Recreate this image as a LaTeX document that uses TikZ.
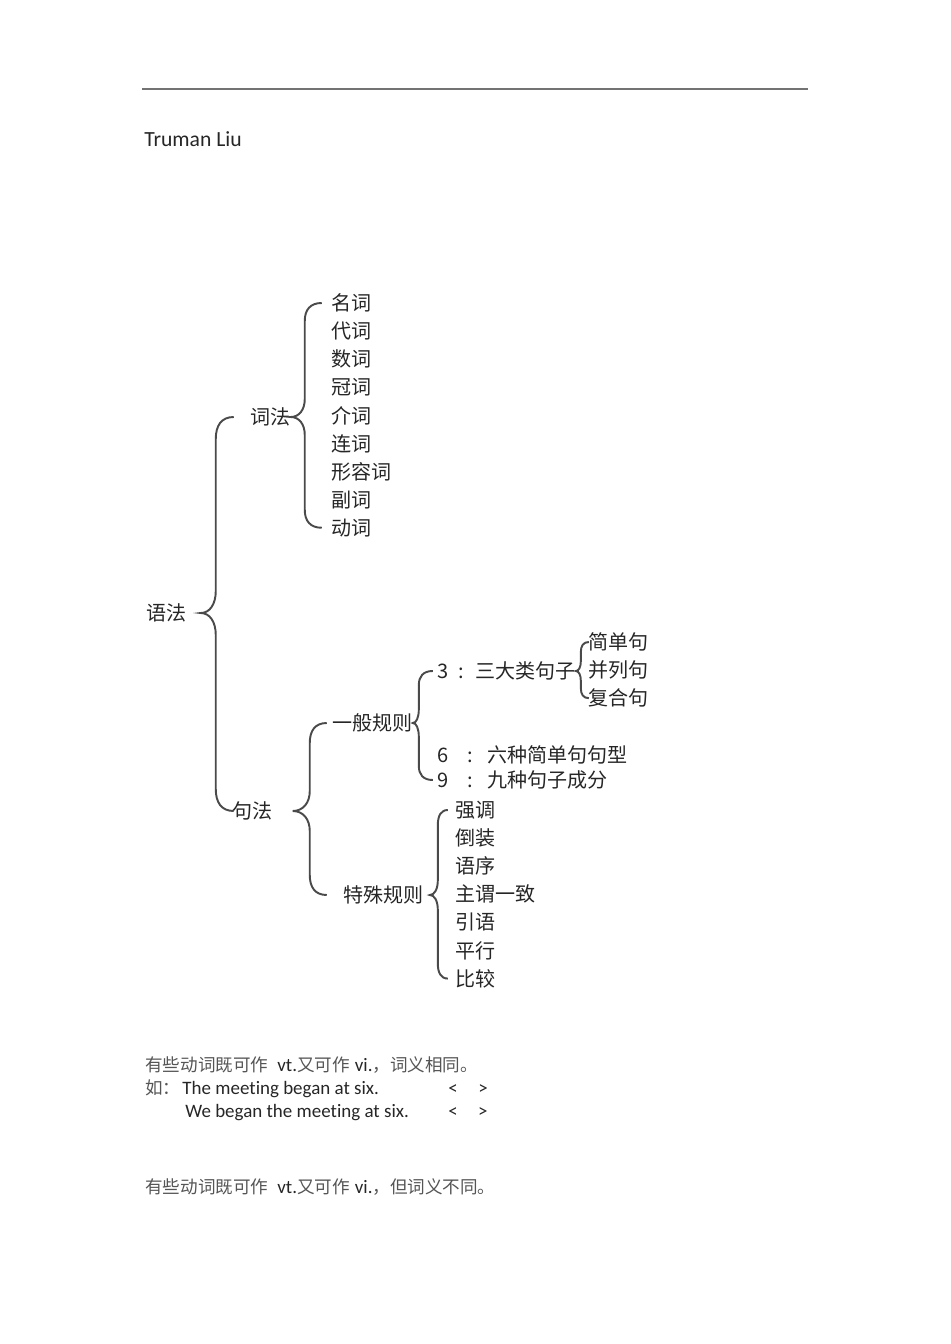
\documentclass[tikz,border=0pt]{standalone}
\usepackage{fontspec}
\setmainfont{Carlito}[Ligatures=NoCommon]
\newfontfamily\cjk{Noto Sans CJK SC}
\usetikzlibrary{positioning,calc}
\definecolor{inkgray}{HTML}{555555}
\definecolor{bracegray}{HTML}{4A4A4A}
\newcommand{\zh}[1]{{\cjk\fontsize{10pt}{12pt}\selectfont\color{inkgray}#1}}
% parent, first child, last child, cusp gap, spine gap, end length, curl
\newcommand{\grbrace}[7]{%
  \coordinate (cusp) at ($(#1.east)+(#4,0)$);
  \coordinate (spine) at ($(cusp)+(#5,0)$);
  \draw[brace] ($(spine |- #2.west)+(#6,0)$)
    .. controls +(-0.7*#6,0) and +(0,0.6*#7) .. ($(spine |- #2.west)+(0,-#7)$)
    -- ($(spine |- cusp)+(0,#7)$)
    .. controls +(0,-0.6*#7) and +(0.6*#5,0) .. (cusp)
    .. controls +(0.6*#5,0) and +(0,0.6*#7) .. ($(spine |- cusp)+(0,-#7)$)
    -- ($(spine |- #3.west)+(0,#7)$)
    .. controls +(0,-0.6*#7) and +(-0.7*#6,0) .. ($(spine |- #3.west)+(#6,0)$);
}

\begin{document}
\begin{tikzpicture}[x=0.02cm,y=0.02cm,node distance=0.562cm,on grid,
    word/.style={anchor=west,inner sep=0pt,text=black!85,font=\cjk\fontsize{11.4pt}{12pt}\selectfont},
    brace/.style={draw=bracegray,line width=1.1pt},
    body/.style={anchor=west,inner sep=0pt,text=black!85,font=\fontsize{10.8pt}{12pt}\selectfont}]
	\useasboundingbox (0,0) rectangle (950,-1344);

	\draw[black!55, line width=0.9pt] (142,-89) -- (808,-89);
	\node[anchor=base west, inner sep=0pt, text=black!85, font=\fontsize{12.3pt}{14pt}\selectfont] (author) at (144,-147) {Truman Liu};

	\node[word] (g_0) at (146,-613) {语法};
	\node[word] (g_1) at (250,-417) {词法};
	\node[word] (g_2) at (232,-811) {句法};

	\node[word] (w_1) at (331,-303) {名词};
	\node[word, below=of w_1.west, anchor=west] (w_2) {代词};
	\node[word, below=of w_2.west, anchor=west] (w_3) {数词};
	\node[word, below=of w_3.west, anchor=west] (w_4) {冠词};
	\node[word, below=of w_4.west, anchor=west] (w_5) {介词};
	\node[word, below=of w_5.west, anchor=west] (w_6) {连词};
	\node[word, below=of w_6.west, anchor=west] (w_7) {形容词};
	\node[word, below=of w_7.west, anchor=west] (w_8) {副词};
	\node[word, below=of w_8.west, anchor=west] (w_9) {动词};

	\node[word] (r_1) at (332,-723) {一般规则};
	\node[word] (r_2) at (343,-895) {特殊规则};

	\node[word] (k_3) at (437,-671) {\makebox[0.42cm][l]{3}\makebox[0.34cm][l]{:}三大类句子};
	\node[word] (k_6) at (437,-755) {\makebox[0.6cm][l]{6}\makebox[0.4cm][l]{:}六种简单句句型};
	\node[word] (k_9) at (437,-780) {\makebox[0.6cm][l]{9}\makebox[0.4cm][l]{:}九种句子成分};

	\node[word] (c_1) at (588,-642) {简单句};
	\node[word, below=of c_1.west, anchor=west] (c_2) {并列句};
	\node[word, below=of c_2.west, anchor=west] (c_3) {复合句};

	\node[word] (s_1) at (455,-810) {强调};
	\node[word, below=of s_1.west, anchor=west] (s_2) {倒装};
	\node[word, below=of s_2.west, anchor=west] (s_3) {语序};
	\node[word, below=of s_3.west, anchor=west] (s_4) {主谓一致};
	\node[word, below=of s_4.west, anchor=west] (s_5) {引语};
	\node[word, below=of s_5.west, anchor=west] (s_6) {平行};
	\node[word, below=of s_6.west, anchor=west] (s_7) {比较};

	\grbrace{g_0}{g_1}{g_2}{14}{15}{18}{22}
	\grbrace{g_1}{w_1}{w_9}{0}{14}{17}{18}
	\grbrace{g_2}{r_1}{r_2}{20}{17}{17}{20}
	\grbrace{r_1}{k_3}{k_9}{0}{6}{14}{14}
	\grbrace{k_3}{c_1}{c_3}{0}{5}{8}{10}
	\grbrace{r_2}{s_1}{s_7}{6}{8}{10}{15}

	\node[body] (l_1) at (145,-1065) {\zh{有些动词既可作}\hspace{0.18cm}vt.\zh{又可作}\hspace{0.1cm}vi.\zh{，词义相同。}};
	\node[body] (l_2) at (145,-1089) {\zh{如：}\hspace{0.04cm}\makebox[5.32cm][l]{The meeting began at six.}<\hspace{0.41cm}>};
	\node[body] (l_3) at (185,-1113) {\makebox[5.26cm][l]{We began the meeting at six.}<\hspace{0.41cm}>};
	\node[body] (l_4) at (145,-1187) {\zh{有些动词既可作}\hspace{0.18cm}vt.\zh{又可作}\hspace{0.1cm}vi.\zh{，但词义不同。}};
\end{tikzpicture}
\end{document}
